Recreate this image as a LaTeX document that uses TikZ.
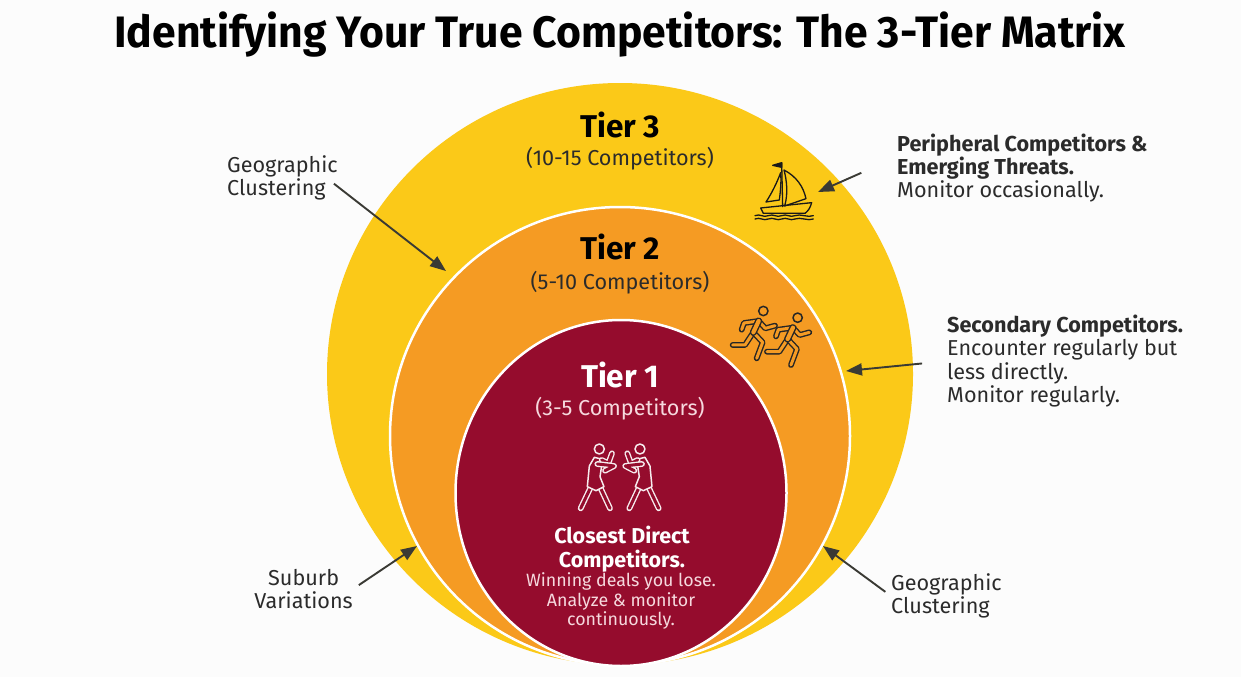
\documentclass[tikz,border=0pt]{standalone}
\usepackage{fontspec}
\setmainfont{Fira Sans}
\newfontfamily\titlefont[FakeStretch=0.97]{Fira Sans}
\usetikzlibrary{arrows.meta}
\definecolor{gold}{HTML}{FBC918}
\definecolor{amber}{HTML}{F59B23}
\definecolor{crimson}{HTML}{950C2D}
\definecolor{ink}{HTML}{3A3A34}
\definecolor{pale}{HTML}{F6D9DE}
\definecolor{txt}{HTML}{2B2B2B}
\tikzset{
  disc/.style={draw=white,line width=2.5pt},
  arr/.style={draw=ink,line width=1.9pt,-{Triangle[length=16pt,width=12pt]}},
  lbl/.style={inner sep=0pt,align=left,text=txt,font=\fontsize{21.6}{23.4}\selectfont},
  tiername/.style={inner sep=0pt,font=\fontsize{31.5}{34}\selectfont\bfseries,text=black},
  tiercount/.style={inner sep=0pt,font=\fontsize{21.6}{24}\selectfont,text=txt},
  icon/.style={line cap=round,line join=round},
  boatline/.style={icon,draw=black!90,line width=1.3pt},
  runner/.style={icon,draw=black!85,line width=1.4pt,double=amber,double distance=3pt},
  runnerhead/.style={icon,draw=black!85,line width=1.5pt},
  boxer/.style={icon,draw=white!92!crimson,line width=1.4pt,double=crimson,double distance=3pt},
  boxerhead/.style={icon,draw=white!92!crimson,line width=1.5pt}
}
\newcommand{\runnerfig}{%
  \draw[runnerhead] (130,48) circle (14);
  \draw[runner] (100,112) -- (75,150) -- (38,150);
  \draw[runner] (100,112) -- (128,142) -- (110,190);
  \draw[runner] (116,78) -- (72,84) -- (65,104);
  \draw[runner] (116,78) -- (136,100) -- (165,92);
  \draw[icon,draw=black!85,line width=7pt] (116,78) -- (100,112);
  \draw[icon,draw=amber,line width=4.2pt] (116,78) -- (100,112);
}
\newcommand{\boxerfig}{%
  \draw[boxerhead] (118,57) circle (15);
  \draw[boxer] (92,172) -- (62,235);
  \draw[boxer] (122,175) -- (150,235);
  \draw[icon,draw=white!92!crimson,line width=1.5pt,fill=crimson] (82,170) -- (88,108) -- (103,82) -- (128,88) -- (120,140) -- (132,170) -- (108,182) -- cycle;
  \draw[boxer] (125,90) -- (145,100) -- (156,70);
  \draw[boxer] (112,102) -- (140,105) -- (162,108) -- (135,122);
}
\begin{document}
\begin{tikzpicture}[x=1pt,y=-1pt]
\useasboundingbox (0,0) rectangle (1241,677);
\fill[white!99!black] (0,0) rectangle (1241,677);
% discs
\path[fill=gold] (620,374) ellipse [x radius=293,y radius=291];
\path[fill=amber,disc] (620,436) ellipse [x radius=230,y radius=229];
\path[fill=crimson,disc] (621,493) ellipse [x radius=165.5,y radius=173];
% title
\node[inner sep=0pt,text=black,font=\titlefont\fontsize{44}{48}\selectfont\bfseries] (title) at (620,34.5) {Identifying Your True Competitors: The 3-Tier Matrix};
% tier text
\node[tiername] (t3) at (620,125) {Tier 3};
\node[tiercount] (t3c) at (620,159) {(10-15 Competitors)};
\node[tiername] (t2) at (620,247) {Tier 2};
\node[tiercount] (t2c) at (620,283) {(5-10 Competitors)};
\node[tiername,text=white] (t1) at (620,375) {Tier 1};
\node[tiercount,text=pale] (t1c) at (620,409) {(3-5 Competitors)};
\node[inner sep=0pt,align=center,text=white,font=\fontsize{21.5}{23.5}\selectfont\bfseries] (cd) at (622,549) {Closest Direct\\Competitors.};
\node[inner sep=0pt,align=center,text=pale,font=\fontsize{17.8}{19.5}\selectfont] (wd) at (621,601) {Winning deals you lose.\\Analyze \& monitor\\continuously.};
% side labels
\node[lbl,anchor=west] (gc1) at (227,178) {Geographic\\Clustering};
\node[lbl,anchor=east,align=center] (sv) at (353,589) {Suburb\\Variations};
\node[lbl,anchor=west] (gc2) at (891,596) {Geographic\\Clustering};
\node[lbl,anchor=west] (pc) at (897,168) {\textbf{Peripheral Competitors \&}\\\textbf{Emerging Threats.}\\Monitor occasionally.};
\node[lbl,anchor=west] (sc) at (947,361) {\textbf{Secondary Competitors.}\\Encounter regularly but\\less directly.\\Monitor regularly.};
% arrow targets
\coordinate (a1) at (446,271);
\coordinate (a2) at (417,546);
\coordinate (a3) at (818,192);
\coordinate (a4) at (846,371);
\coordinate (a5) at (823,546);
\draw[arr,shorten <=-5pt] (gc1.-9) -- (a1);
\draw[arr,shorten <=7pt] (sv.east) -- (a2);
\draw[arr,shorten <=39pt] (pc.175) -- (a3);
\draw[arr,shorten <=25pt] (sc.west) -- (a4);
\draw[arr,shorten <=7pt] (gc2.west) -- (a5);
% boat icon
\begin{scope}[shift={(720,150)},x=0.3333pt,y=-0.3333pt]
  \draw[boatline,fill=black!90] (185,38) -- (158,46) -- (185,52) -- cycle;
  \draw[boatline] (185,38) -- (188,170);
  \draw[boatline] (182,68) .. controls (170,100) and (155,130) .. (138,156) -- (178,150) .. controls (182,120) and (184,95) .. (182,68);
  \draw[boatline] (192,60) .. controls (230,80) and (250,110) .. (258,146) -- (194,168) .. controls (205,130) and (200,90) .. (192,60);
  \draw[boatline] (122,174) -- (275,158) .. controls (270,175) and (265,182) .. (255,190) -- (130,190) -- cycle;
  \draw[boatline] (105,197) .. controls (120,190) and (130,204) .. (145,197) .. controls (160,190) and (170,204) .. (185,197) .. controls (200,190) and (210,204) .. (225,197) .. controls (240,190) and (265,204) .. (280,197);
  \draw[boatline] (105,207) .. controls (120,200) and (130,214) .. (145,207) .. controls (160,200) and (170,214) .. (185,207) .. controls (200,200) and (210,214) .. (225,207) .. controls (240,200) and (265,214) .. (280,207);
\end{scope}
% runners
\begin{scope}[shift={(720,295)},x=0.3333pt,y=-0.3333pt]
  \runnerfig
\end{scope}
\begin{scope}[shift={(754.3,301.7)},x=0.3333pt,y=-0.3333pt]
  \runnerfig
\end{scope}
% boxers
\begin{scope}[shift={(560,430)},x=0.3333pt,y=-0.3333pt]
  \boxerfig
\end{scope}
\begin{scope}[shift={(679.3,430)},x=-0.3333pt,y=-0.3333pt]
  \boxerfig
\end{scope}
\end{tikzpicture}
\end{document}
